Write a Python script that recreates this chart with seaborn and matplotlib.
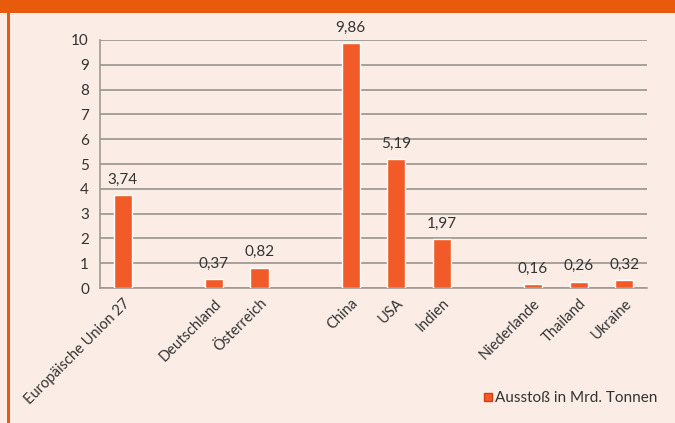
import pandas as pd
import matplotlib
matplotlib.use("Agg")
import matplotlib.pyplot as plt
import seaborn as sns
from matplotlib.patches import Rectangle
from matplotlib.lines import Line2D

# Daten
laender = ["Europäische Union 27", " ", "Deutschland", "Österreich", "  ",
           "China", "USA", "Indien", "   ", "Niederlande", "Thailand", "Ukraine"]
werte = [3.74, None, 0.37, 0.82, None, 9.86, 5.19, 1.97, None, 0.16, 0.26, 0.32]
legende = "Ausstoß in Mrd. Tonnen"

df = pd.DataFrame({"Land": laender, "Wert": werte}).dropna()

sns.set_theme(style="white")
plt.rcParams["font.family"] = ["Lato", "DejaVu Sans"]

bg = "#FBEDE6"
orange = "#E85A0C"
bar_col = "#F25A28"
txt = "#333333"

fig = plt.figure(figsize=(6.75, 4.23), dpi=100)
fig.patch.set_facecolor(bg)
ax = fig.add_axes([100 / 675, 1 - 288 / 423, 547 / 675, 248 / 423])
ax.set_facecolor(bg)

sns.barplot(data=df, x="Land", y="Wert", order=laender, color=bar_col,
            width=0.4, saturation=1, ax=ax, zorder=3)

# Werte über den Balken
for c in ax.containers:
    labs = [f"{v:.2f}".replace(".", ",") for v in c.datavalues]
    ax.bar_label(c, labels=labs, padding=6, fontsize=11, color=txt)

ax.set_ylim(0, 10)
ax.set_xlim(-0.5, len(laender) - 0.5)
ax.set_yticks(range(0, 11))
ax.yaxis.grid(True, color="#A09A96", linewidth=1.3, zorder=0)
ax.set_axisbelow(True)

ax.set_xticks(range(len(laender)))
ax.set_xticklabels([l.strip() for l in laender], rotation=45, ha="right",
                   rotation_mode="anchor", fontsize=10.5, color=txt)
ax.tick_params(axis="x", which="major", length=0, pad=6)
ax.set_xticks([i - 0.5 for i in range(len(laender) + 1)], minor=True)
ax.tick_params(axis="x", which="minor", length=4, color="#A09A96", width=1)
ax.tick_params(axis="y", length=4, color="#A09A96", width=1, labelsize=11,
               labelcolor=txt, pad=4)

for s in ["top", "right"]:
    ax.spines[s].set_visible(False)
for s in ["left", "bottom"]:
    ax.spines[s].set_color("#A09A96")
    ax.spines[s].set_linewidth(1.2)
ax.set_xlabel("")
ax.set_ylabel("")

# Legende
h = Line2D([], [], marker="s", linestyle="", markersize=6,
           markerfacecolor=bar_col, markeredgecolor="#D04010")
fig.legend([h], [legende], loc="center right", bbox_to_anchor=(0.995, 1 - 398 / 423),
           frameon=False, fontsize=11, handletextpad=0.1, labelcolor=txt,
           handlelength=0.8)

# Orangener Rahmen oben und links
fig.add_artist(Rectangle((0, 1 - 13 / 423), 1, 13 / 423, transform=fig.transFigure,
                         facecolor=orange, edgecolor="none"))
fig.add_artist(Rectangle((7 / 675, 0), 2.5 / 675, 1, transform=fig.transFigure,
                         facecolor=orange, edgecolor="none"))

fig.savefig("out.png", dpi=100, facecolor=bg)
